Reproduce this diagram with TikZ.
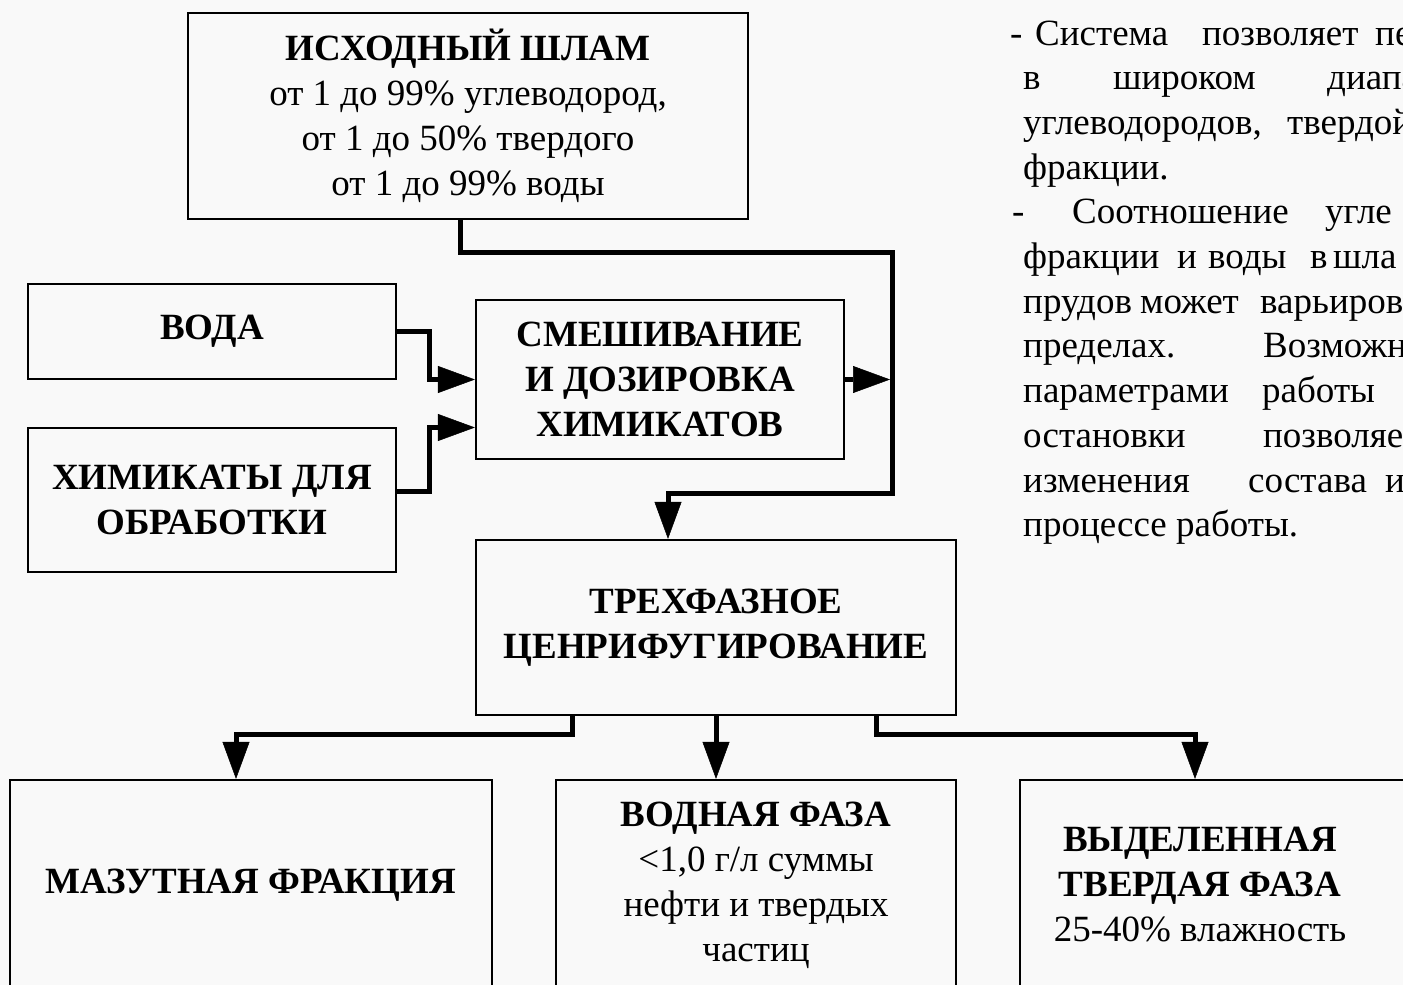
\documentclass[tikz,border=0pt]{standalone}
\usepackage{fontspec}
\setmainfont{Liberation Serif}
\usetikzlibrary{arrows.meta}
\definecolor{bgcol}{RGB}{249,249,249}
\begin{document}
\begin{tikzpicture}[x=1pt,y=-1pt,
  box/.style={draw, line width=2.2pt, inner sep=0pt, align=center,
    font=\fontsize{37}{45}\selectfont},
  txt/.style={inner sep=0pt, align=center, font=\fontsize{37}{45}\selectfont},
  flow/.style={line width=5pt, line join=miter,
    -{Triangle[length=37pt,width=27pt,line width=0.5pt]}},
  para/.style={anchor=base west, inner sep=0pt, font=\fontsize{37}{45}\selectfont}]
\useasboundingbox (0,0) rectangle (1403,985);
\fill[bgcol] (0,0) rectangle (1403,985);
\clip (0,0) rectangle (1403,985);

% boxes
\node[box, minimum width=560, minimum height=206] (src) at (468,116)
  {\textbf{ИСХОДНЫЙ ШЛАМ}\\от 1 до 99\% углеводород,\\от 1 до 50\% твердого\\от 1 до 99\% воды};
\node[box, minimum width=368, minimum height=95] (voda) at (212,331.5) {\textbf{ВОДА}};
\node[box, minimum width=368, minimum height=144] (chem) at (212,500)
  {\textbf{ХИМИКАТЫ ДЛЯ}\\\textbf{ОБРАБОТКИ}};
\node[box, minimum width=368, minimum height=159] (mix) at (660,379.5)
  {\textbf{СМЕШИВАНИЕ}\\\textbf{И ДОЗИРОВКА}\\\textbf{ХИМИКАТОВ}};
\node[box, minimum width=480, minimum height=175] (cent) at (716,627.5)
  {\textbf{ТРЕХФАЗНОЕ}\\\textbf{ЦЕНРИФУГИРОВАНИЕ}};
\node[box, minimum width=482, minimum height=210] (maz) at (251,885)
  {\textbf{МАЗУТНАЯ ФРАКЦИЯ}};
\node[box, minimum width=400, minimum height=210] (wat) at (756,885)
  {\textbf{ВОДНАЯ ФАЗА}\\{<}1,0 г/л суммы\\нефти и твердых\\частиц};
\node[box, minimum width=400, minimum height=210] (sol) at (1220,885) {};
\node[txt] (solt) at (1200,885)
  {\textbf{ВЫДЕЛЕННАЯ}\\\textbf{ТВЕРДАЯ ФАЗА}\\25-40\% влажность};

% connectors
\coordinate (bus) at (892,252);
\coordinate (bend) at (892,493);
\draw[flow] ([xshift=-8pt]src.south) |- (bus) -- (bend) -| ([xshift=-48pt]cent.north);
\draw[flow] (mix.east) -- ([xshift=-2pt]mix.east -| bus);
\draw[flow] (voda.east) -- ++(32,0) |- (mix.west);
\draw[flow] ([yshift=9pt]chem.east) -- ++(32,0) |- ([yshift=-48pt]mix.west);
\draw[flow] ([xshift=-144pt]cent.south) -- ++(0,18) -| ([xshift=-15pt]maz.north);
\draw[flow] (cent.south) -- (cent.south |- wat.north);
\draw[flow] ([xshift=160pt]cent.south) -- ++(0,18) -| ([xshift=-25pt]sol.north);

% side text
\node[para] (l1) at (1010,45) {\rlap{-}\kern25pt\rlap{Система}\kern167pt\rlap{позволяет}\kern173pt пе};
\node[para] (l2) at (1023,89.7) {\rlap{в}\kern90pt\rlap{широком}\kern214pt диапа};
\node[para] (l3) at (1023,134.4) {\rlap{углеводородов,}\kern264pt твердой};
\node[para] (l4) at (1023,179.1) {фракции.};
\node[para] (l5) at (1012,223.8) {\rlap{-}\kern60pt\rlap{Соотношение}\kern253pt угле};
\node[para] (l6) at (1023,268.5) {\rlap{фракции}\kern154pt\rlap{и}\kern31pt\rlap{воды}\kern102pt\rlap{в}\kern23pt шла};
\node[para] (l7) at (1023,313.2) {\rlap{прудов}\kern117pt\rlap{может}\kern120pt варьиров};
\node[para] (l8) at (1023,357.9) {\rlap{пределах.}\kern240pt Возможн};
\node[para] (l9) at (1023,402.6) {\rlap{параметрами}\kern239pt работы};
\node[para] (l10) at (1023,447.3) {\rlap{остановки}\kern240pt позволяе};
\node[para] (l11) at (1023,492) {\rlap{изменения}\kern225pt\rlap{состава}\kern137pt и};
\node[para] (l12) at (1023,536.7) {процессе работы.};
\end{tikzpicture}
\end{document}
